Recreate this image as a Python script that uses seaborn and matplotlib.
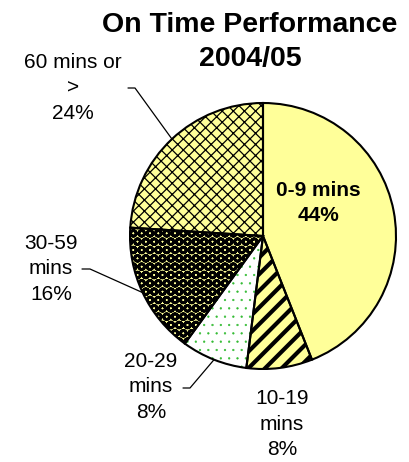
import numpy as np
import seaborn as sns
import matplotlib.pyplot as plt

sns.set_style("white")
plt.rcParams['font.family'] = ['Liberation Sans', 'DejaVu Sans']
plt.rcParams['text.color'] = 'black'

# On time performance 2004/05 (share of services)
categories = ["0-9 mins", "10-19 mins", "20-29 mins", "30-59 mins", "60 mins or >"]
shares = [44, 8, 8, 16, 24]
label_texts = ["0-9 mins\n44%", "10-19\nmins\n8%", "20-29\nmins\n8%", "30-59\nmins\n16%", "60 mins or\n>\n24%"]

W, H = 409, 462
CX, CY, R = 263, 236, 133  # pie centre / radius in pixels

fig = plt.figure(figsize=(W / 100, H / 100), dpi=100)
fig.patch.set_facecolor("white")
ax = fig.add_axes([(CX - R) / W, (H - CY - R) / H, 2 * R / W, 2 * R / H])


def px(x, y):
    # pixel position -> data coords of the pie axes
    return (x - CX) / R, (CY - y) / R


yellow = "#FFFF99"
faces = [yellow, yellow, "white", yellow, yellow]
hatches = [None, "//", "..", "OO", "xxx"]
hatch_cols = ["black", "black", "#33BB33", "black", "black"]
hatch_lw = [1.0, 3.0, 0.4, 2.0, 0.9]

wedges, _ = ax.pie(shares, startangle=90, counterclock=False, radius=1,
                   colors=faces, wedgeprops=dict(linewidth=0))
for w, h, hc, lw in zip(wedges, hatches, hatch_cols, hatch_lw):
    if h:
        w.set_hatch(h)
        w.set_edgecolor(hc)
        w.set_linewidth(0)
        if hasattr(w, "set_hatch_linewidth"):
            w.set_hatch_linewidth(lw)
        else:
            w._hatch_linewidth = lw

# outlines
ax.pie(shares, startangle=90, counterclock=False, radius=1,
       wedgeprops=dict(fill=False, edgecolor="black", linewidth=1.5))
ax.set_xlim(-1, 1)
ax.set_ylim(-1, 1)
ax.axis("off")

# labels
label_pos = [(318, 203), (282, 424), (151, 387), (51, 269), (73, 88)]
leader = [None, None, [(190, 388), (183, 388)], [(90, 269), (82, 269)], [(135, 88), (128, 88)]]
for i, w in enumerate(wedges):
    tx, ty = px(*label_pos[i])
    ax.text(tx, ty, label_texts[i], ha="center", va="center", fontsize=15,
            fontweight="bold" if i == 0 else "normal", linespacing=1.45)
    if leader[i]:
        mid = np.deg2rad((w.theta1 + w.theta2) / 2)
        xs = [np.cos(mid)] + [px(*p)[0] for p in leader[i]]
        ys = [np.sin(mid)] + [px(*p)[1] for p in leader[i]]
        ax.plot(xs, ys, color="black", lw=0.9, clip_on=False)

fig.text(250 / W, 1 - 42 / H, "On Time Performance\n2004/05", ha="center", va="center",
         fontsize=20.5, fontweight="bold", linespacing=1.4)

fig.savefig("out.png", dpi=100, facecolor="white")
